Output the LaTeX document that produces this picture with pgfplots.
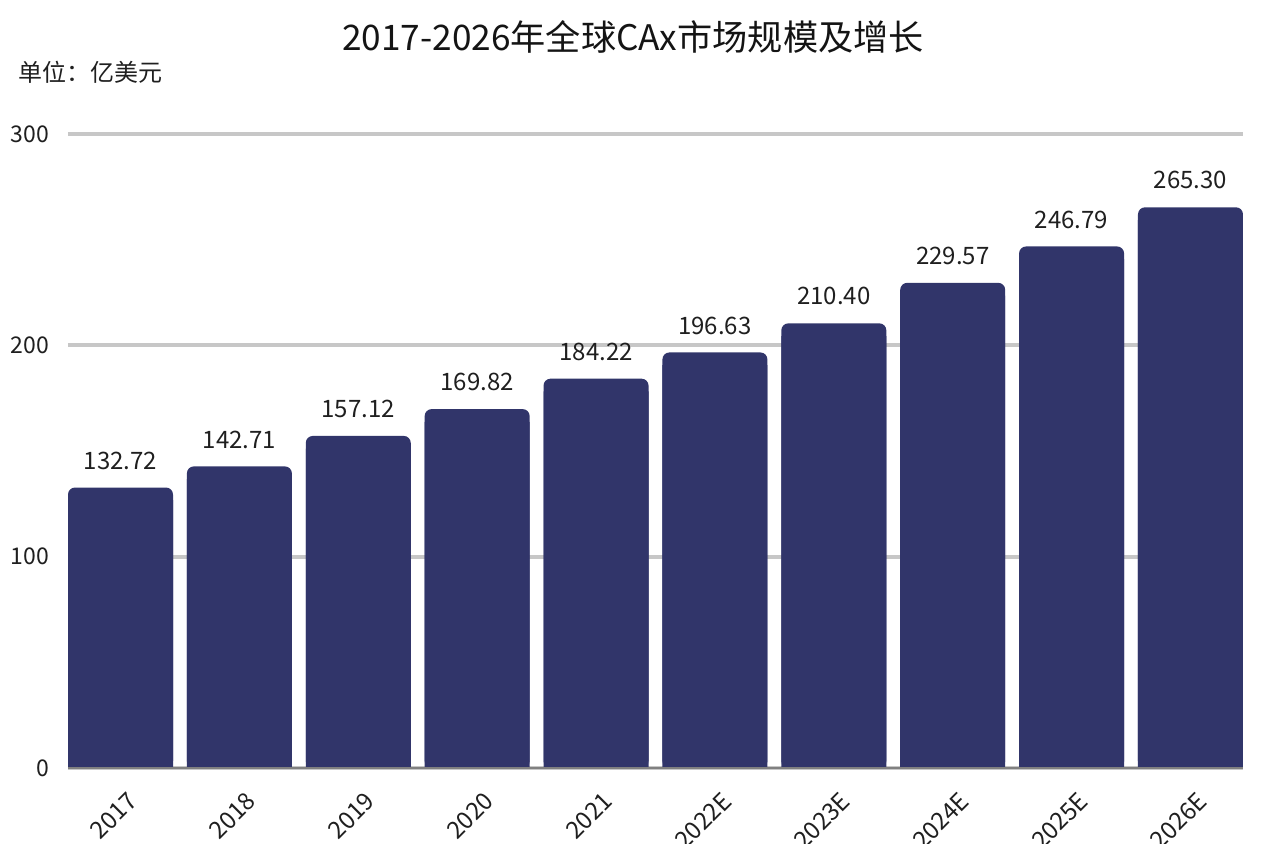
\documentclass[border=0pt]{standalone}
\usepackage{pgfplots}
\pgfplotsset{compat=1.18}
\usepackage{pgfplotstable}
\usepackage{fontspec}
\setmainfont{Noto Sans CJK SC}
\definecolor{barc}{RGB}{49,53,106}
\pgfplotstableread{
x v
0 132.72
1 142.71
2 157.12
3 169.82
4 184.22
5 196.63
6 210.40
7 229.57
8 246.79
9 265.30
}\data
\begin{document}
\begin{tikzpicture}
\begin{axis}[
  at={(0,0)}, anchor=south west,
  scale only axis, width=587.5pt, height=317pt,
  xmin=-0.4416, xmax=9.4416, ymin=0, ymax=300,
  ytick={0,100,200,300},
  xtick={0,...,9},
  xticklabels={2017,2018,2019,2020,2021,2022E,2023E,2024E,2025E,2026E},
  ymajorgrids,
  major grid style={draw=black!22, line width=2pt},
  axis line style={draw=none},
  tick style={draw=none},
  ticklabel style={font=\fontsize{11.5}{13}\selectfont, text=black!88},
  /pgf/number format/assume math mode=true,
  yticklabel style={xshift=-6pt},
  xticklabel style={font=\fontsize{12}{14}\selectfont, rotate=45, anchor=east, xshift=-2.5pt, yshift=-14.5pt},
  clip=false,
]
\addplot[ybar, bar width=52.5pt, bar shift=0pt, fill=barc, draw=none, rounded corners=3.5pt,
  nodes near coords={\pgfmathprintnumber[fixed,fixed zerofill,precision=2,assume math mode=true]{\pgfplotspointmeta}},
  every node near coord/.append style={font=\fontsize{12}{14}\selectfont, text=black!88, anchor=south, yshift=5.5pt}]
  table[x=x,y=v]{\data};
\addplot[ybar, bar width=52.5pt, bar shift=0pt, fill=barc, draw=none]
  table[x=x,y expr=\thisrow{v}-6]{\data};
\draw[black!50, line width=1.2pt] (rel axis cs:0,0) -- (rel axis cs:1,0);
\end{axis}
\node[font=\fontsize{17.6}{20}\selectfont, text=black!92] at (282.5pt,365.5pt) {2017-2026年全球CAx市场规模及增长};
\node[anchor=west, inner sep=0pt, font=\fontsize{12}{14}\selectfont, text=black!88] at (-25pt,348pt) {单位：亿美元};
\pgfresetboundingbox
\path[use as bounding box] (-34pt,-38pt) rectangle (599pt,384pt);
\end{tikzpicture}
\end{document}
